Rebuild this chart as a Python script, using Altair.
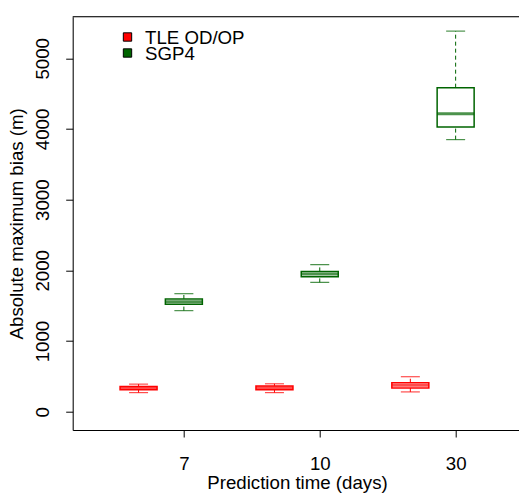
import json
import altair as alt
import pandas as pd

# ---- data ----
categories = ["7", "10", "30"]          # prediction time (days)
series = ["TLE OD/OP", "SGP4"]
colors = ["#ff0000", "#006400"]

tle_min = [270, 270, 280]
tle_q1 = [310, 312, 335]
tle_med = [335, 340, 375]
tle_q3 = [355, 365, 410]
tle_max = [390, 395, 495]

sgp_min = [1430, 1830, 3850]
sgp_q1 = [1520, 1910, 4030]
sgp_med = [1555, 1950, 4215]
sgp_q3 = [1595, 1985, 4585]
sgp_max = [1670, 2080, 5385]

y_ticks = [0, 1000, 2000, 3000, 4000, 5000]

# ---- table ----
stats = {
    "TLE OD/OP": (tle_min, tle_q1, tle_med, tle_q3, tle_max, -1 / 3),
    "SGP4": (sgp_min, sgp_q1, sgp_med, sgp_q3, sgp_max, 0.0),
}
rows = []
for s in series:
    mn, q1, md, q3, mx, off = stats[s]
    for i, c in enumerate(categories):
        rows.append(dict(series=s, cat=c, pos=i + 1 + off,
                         lo=mn[i], q1=q1[i], med=md[i], q3=q3[i], hi=mx[i]))
df = pd.DataFrame(rows)

W, H = 446.3, 413.3
FONT = "Liberation Sans"
FS = 18.67

xs = alt.Scale(domain=[0.2187, 3.4295], nice=False, zero=False)
ys = alt.Scale(domain=[-259, 5589], nice=False, zero=False)

x_axis = alt.Axis(values=[1, 2, 3],
                  labelExpr=f"{json.dumps(categories)}[datum.value - 1]",
                  title="Prediction time (days)", grid=False,
                  tickSize=7, tickColor="black", domainColor="black",
                  labelFontSize=FS, labelColor="black", labelFont=FONT,
                  labelBaseline="alphabetic", labelPadding=32.5,
                  labelFlush=False,
                  titleFontSize=FS, titleFont=FONT, titleFontWeight="normal",
                  titleColor="black", titleX=224.3, titleY=58,
                  titleAlign="center", titleBaseline="alphabetic")
y_axis = alt.Axis(values=y_ticks, format="d", title="Absolute maximum bias (m)",
                  grid=False,
                  tickSize=7, tickColor="black", domainColor="black",
                  labelFontSize=FS, labelColor="black", labelFont=FONT,
                  labelAngle=-90, labelAlign="center", labelBaseline="alphabetic",
                  labelPadding=17, labelFlush=False,
                  titleFontSize=FS, titleFont=FONT, titleFontWeight="normal",
                  titleColor="black", titleAngle=-90, titleX=-55.7, titleY=H / 2,
                  titleAlign="center", titleBaseline="middle")

cscale = alt.Scale(domain=series, range=colors)

base = alt.Chart(df)
x_enc = alt.X("pos:Q", scale=xs, axis=x_axis)

whisk_up = base.mark_rule(strokeDash=[4, 3], strokeWidth=1).encode(
    x=x_enc, y=alt.Y("q3:Q", scale=ys, axis=y_axis), y2="hi:Q",
    color=alt.Color("series:N", scale=cscale, legend=None))
whisk_dn = base.mark_rule(strokeDash=[4, 3], strokeWidth=1).encode(
    x="pos:Q", y="lo:Q", y2="q1:Q",
    color=alt.Color("series:N", scale=cscale, legend=None))
staple_hi = base.mark_tick(orient="horizontal", size=19, thickness=1.2).encode(
    x="pos:Q", y="hi:Q", color=alt.Color("series:N", scale=cscale, legend=None))
staple_lo = base.mark_tick(orient="horizontal", size=19, thickness=1.2).encode(
    x="pos:Q", y="lo:Q", color=alt.Color("series:N", scale=cscale, legend=None))
boxes = base.mark_bar(size=37, fill="white", strokeWidth=1.5).encode(
    x="pos:Q", y="q1:Q", y2="q3:Q",
    stroke=alt.Stroke("series:N", scale=cscale, legend=None))
medians = base.mark_tick(orient="horizontal", size=37, thickness=3).encode(
    x="pos:Q", y="med:Q", color=alt.Color("series:N", scale=cscale, legend=None))

top_line = alt.Chart(pd.DataFrame({"a": [0]})).mark_rule(
    color="black", strokeWidth=1).encode(
    x=alt.value(0), x2=alt.value(W), y=alt.value(0))

# manual legend
leg_layers = []
for k, (s, c) in enumerate(zip(series, colors)):
    ld = pd.DataFrame({"series": [s]})
    ypix = 20.3 + 16 * k
    leg_layers.append(alt.Chart(ld).mark_square(
        size=70, filled=True, fill=c, stroke="black", strokeWidth=1, opacity=1
    ).encode(x=alt.value(54.8), y=alt.value(ypix)))
    leg_layers.append(alt.Chart(ld).mark_text(
        align="left", baseline="middle", font=FONT, fontSize=FS, color="black"
    ).encode(x=alt.value(72.3), y=alt.value(ypix + 1), text="series:N"))

chart = alt.layer(whisk_up, whisk_dn, staple_hi, staple_lo, boxes, medians,
                  top_line, *leg_layers).properties(
    width=W, height=H,
    autosize=alt.AutoSizeParams(type="none"),
    padding={"left": 72.7, "top": 16.7, "right": 0, "bottom": 63},
).configure_view(stroke=None).configure(background="white")

chart.save("out.html", embed_options={"renderer": "svg", "actions": False})
